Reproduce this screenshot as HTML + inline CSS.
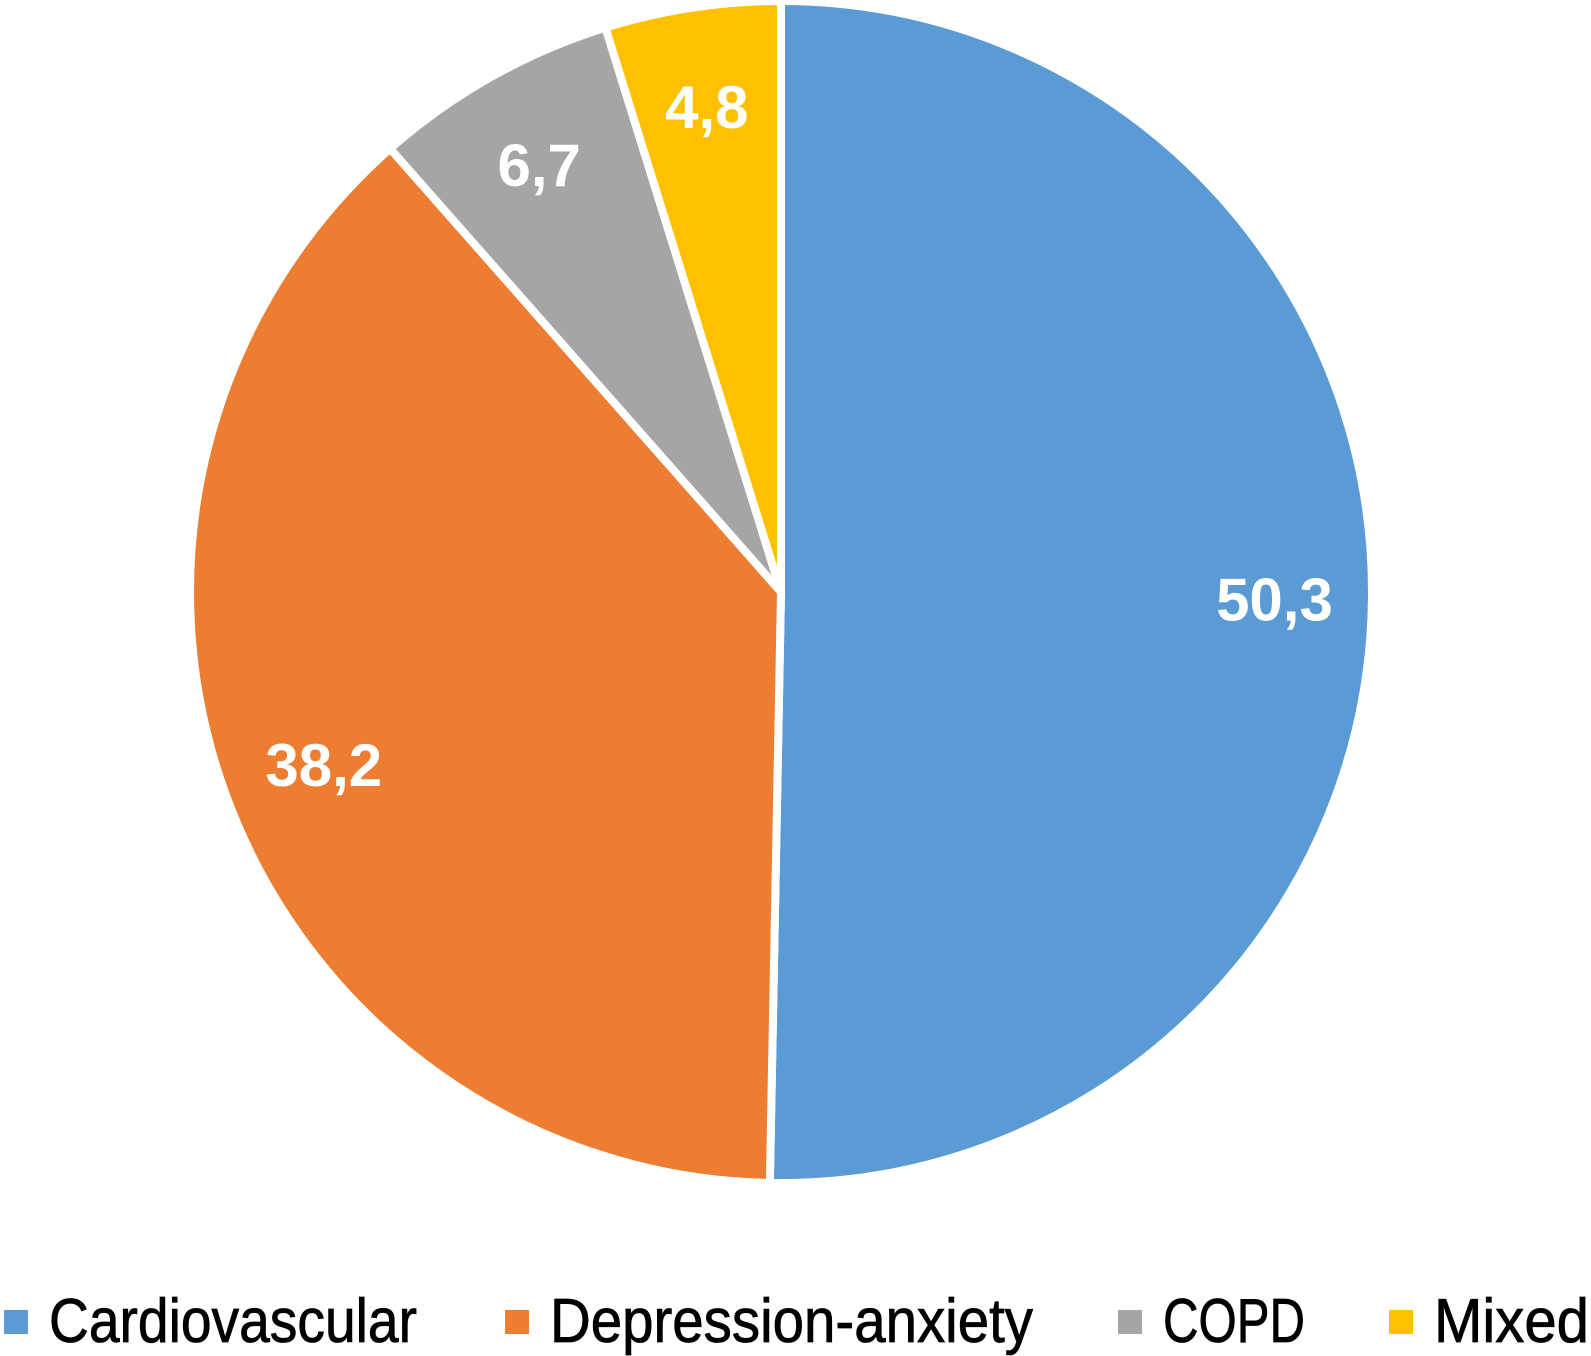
<!DOCTYPE html>
<html><head><meta charset="utf-8"><style>
html,body{margin:0;padding:0;background:#fff;}
svg{display:block;}
</style></head><body>
<svg id="chart" width="1591" height="1356" viewBox="0 0 1591 1356" xmlns="http://www.w3.org/2000/svg" font-family="Liberation Sans, sans-serif">
<g id="slices"></g>
<g id="labels"></g>
<g id="legend"></g>
</svg>
<script>
const categories = ["Cardiovascular", "Depression-anxiety", "COPD", "Mixed"];
const values = [50.3, 38.2, 6.7, 4.8];
const valueLabels = ["50,3", "38,2", "6,7", "4,8"];
const colors = ["#5B9BD5", "#ED7D31", "#A5A5A5", "#FFC000"];

const NS = "http://www.w3.org/2000/svg";
const cx = 781, cy = 592, r = 591;
const total = values.reduce((a, b) => a + b, 0);
function pt(frac, rad) {
  const a = frac * 2 * Math.PI;
  return [cx + rad * Math.sin(a), cy - rad * Math.cos(a)];
}
const gS = document.getElementById('slices');
const gL = document.getElementById('labels');
let acc = 0;
values.forEach((v, i) => {
  const f0 = acc / total, f1 = (acc + v) / total;
  acc += v;
  const p0 = pt(f0, r), p1 = pt(f1, r);
  const large = (f1 - f0) > 0.5 ? 1 : 0;
  const path = document.createElementNS(NS, 'path');
  path.setAttribute('d', `M${cx},${cy} L${p0[0]},${p0[1]} A${r},${r} 0 ${large} 1 ${p1[0]},${p1[1]} Z`);
  path.setAttribute('fill', colors[i]);
  path.setAttribute('stroke', '#fff');
  path.setAttribute('stroke-width', '8');
  path.setAttribute('stroke-linejoin', 'round');
  
  
  gS.appendChild(path);
  const lp = pt((f0 + f1) / 2, r * 0.835);
  const t = document.createElementNS(NS, 'text');
  t.setAttribute('x', lp[0] + (i === 1 ? 6 : 0));
  t.setAttribute('y', lp[1] + 24);
  t.setAttribute('text-anchor', 'middle');
  t.setAttribute('font-size', '60');
  t.setAttribute('font-weight', 'bold');
  t.setAttribute('fill', '#fff');
  t.textContent = valueLabels[i];
  
  
  gL.appendChild(t);
});

const legSquareX = [4, 505, 1118, 1389];
const legTextW = [368, 483, 142, 155];
const gLeg = document.getElementById('legend');
categories.forEach((c, i) => {
  const g = document.createElementNS(NS, 'g');
  
  
  const t = document.createElementNS(NS, 'text');
  t.setAttribute('x', legSquareX[i] + 45);
  t.setAttribute('y', 1342);
  t.setAttribute('font-size', '62');
  t.setAttribute('fill', '#000');
  t.setAttribute('stroke', '#000');
  t.setAttribute('stroke-width', '0.8');
  t.setAttribute('textLength', legTextW[i]);
  t.setAttribute('lengthAdjust', 'spacingAndGlyphs');
  t.textContent = c;
  
  
  g.appendChild(t);
  const s = document.createElementNS(NS, 'path');
  const sx = legSquareX[i];
  s.setAttribute('d', `M${sx},1310 h24 v24 h-24 Z`);
  s.setAttribute('fill', colors[i]);
  s.setAttribute('stroke', 'none');
  
  
  g.appendChild(s);
  gLeg.appendChild(g);
});
</script>
</body></html>
